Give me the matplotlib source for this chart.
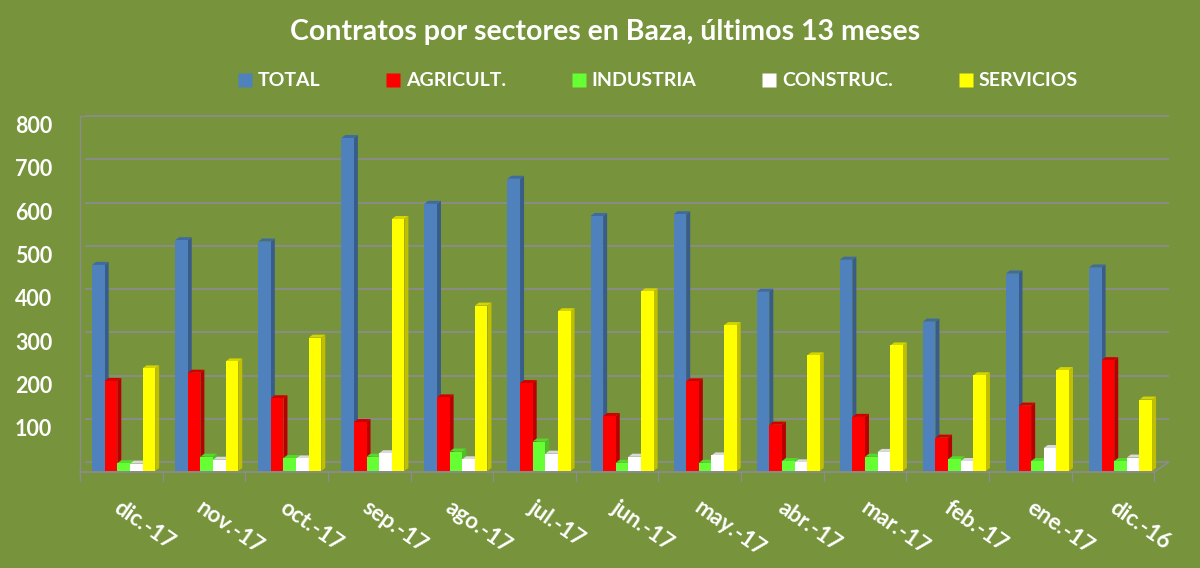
import matplotlib
matplotlib.use("Agg")
import matplotlib.pyplot as plt
from matplotlib.patches import Polygon
from matplotlib.lines import Line2D
import matplotlib.transforms as mtransforms

# ---- data ----
months = ["dic.-17", "nov.-17", "oct.-17", "sep.-17", "ago.-17", "jul.-17", "jun.-17",
          "may.-17", "abr.-17", "mar.-17", "feb.-17", "ene.-17", "dic.-16"]
series_names = ["TOTAL", "AGRICULT.", "INDUSTRIA", "CONSTRUC.", "SERVICIOS"]
total     = [476, 533, 530, 769, 617, 675, 589, 593, 414, 488, 345, 456, 470]
agricult  = [208, 227, 168, 113, 170, 203, 127, 207, 107, 125, 77, 151, 256]
industria = [18, 33, 30, 33, 45, 68, 19, 19, 23, 33, 27, 23, 23]
construc  = [17, 26, 29, 41, 27, 40, 33, 36, 20, 44, 23, 53, 31]
servicios = [237, 253, 308, 582, 382, 369, 415, 337, 267, 290, 221, 233, 165]
yticks = [100, 200, 300, 400, 500, 600, 700, 800]

values = [total, agricult, industria, construc, servicios]

# ---- style ----
BG = "#77933C"
front_cols = ["#4F81BD", "#FF0000", "#66FF33", "#FFFFFF", "#FFFF00"]
side_cols = ["#385D8A", "#B80000", "#4CC026", "#C8C8C8", "#BFBF00"]
top_cols = ["#3E6BA3", "#D00000", "#55D92B", "#DADADA", "#D4D400"]
GRID = "#8C8C8C"
FONT = ["Lato", "DejaVu Sans"]
plt.rcParams["font.family"] = FONT

fig = plt.figure(figsize=(12, 5.68), dpi=100, facecolor=BG)
ax = fig.add_axes([80 / 1200, 97 / 568, 1080 / 1200, 368 / 568])
ax.set_facecolor("none")
ax.set_xlim(0, 13)
ax.set_ylim(0, 850)
for s in ax.spines.values():
    s.set_visible(False)

bw = 0.152
off0 = 0.145
dx = 0.048   # depth in x (data units)
dy = 7.0     # depth in y (data units)
gdy = 20.0   # back wall offset for gridlines
gdx = 0.07

# back wall gridlines
for v in [0] + yticks:
    ax.plot([gdx, 13 + 0.1], [v + gdy, v + gdy], color=GRID, lw=1.3, zorder=0.5,
            clip_on=False)
# left wall line
ax.plot([0, 0], [0, 800 + gdy], color=GRID, lw=1.0, zorder=0.5, clip_on=False)
ax.plot([0, gdx], [800 + gdy, 800 + gdy], color=GRID, lw=1.0, zorder=0.5, clip_on=False)
# floor front edge
ax.plot([0, 12.93], [-2, -2], color=GRID, lw=1.3, zorder=0.6, clip_on=False)
ax.plot([12.93, 13.1], [-2, gdy], color=GRID, lw=1.3, zorder=0.6, clip_on=False)
for i in range(14):
    ax.plot([i * 12.93 / 13, i * 12.93 / 13], [-2, -22], color=GRID, lw=1.0,
            zorder=0.6, clip_on=False)

# bars with pseudo-3D faces
for g in range(len(months)):
    for k in range(len(series_names)):
        v = values[k][g]
        x0 = g + off0 + k * bw
        x1 = x0 + bw
        z = 2 + g * 0.01 + k * 0.001
        ax.bar(x0, v, width=bw, align="edge", color=front_cols[k], lw=0, zorder=z)
        side = Polygon([(x1, 0), (x1, v), (x1 + dx, v + dy), (x1 + dx, dy)],
                       closed=True, facecolor=side_cols[k], edgecolor="none",
                       zorder=z - 0.0005)
        ax.add_patch(side)
        top = Polygon([(x0, v), (x1, v), (x1 + dx, v + dy), (x0 + dx, v + dy)],
                      closed=True, facecolor=top_cols[k], edgecolor="none",
                      zorder=z - 0.0004)
        ax.add_patch(top)

# y tick labels
ax.set_yticks(yticks)
ax.set_yticklabels([str(t) for t in yticks], fontsize=15.5, fontweight="bold",
                   color="white")
ax.tick_params(axis="y", length=0, pad=20)
ax.set_xticks([])

# x labels rotated
xtr = ax.get_xaxis_transform()
for g, m in enumerate(months):
    t = xtr + mtransforms.ScaledTranslation(0, -26 / 100, fig.dpi_scale_trans)
    ax.text(g + 0.50, 0, m, transform=t, rotation=-35, rotation_mode="anchor",
            ha="left", va="top", fontsize=16, fontweight="bold", color="white")

# title
fig.text(605 / 1200, 1 - 32 / 568, "Contratos por sectores en Baza, últimos 13 meses",
         ha="center", va="center", fontsize=20.5, fontweight="bold", color="white")

# legend
handles = [Line2D([], [], marker="s", linestyle="none", markersize=9.5,
                  markerfacecolor=c, markeredgecolor="none") for c in front_cols]
leg = fig.legend(handles, series_names, loc="center", ncol=5,
                 bbox_to_anchor=(658 / 1200, 1 - 81 / 568), frameon=False,
                 fontsize=14, handlelength=0.7, handletextpad=0.3,
                 columnspacing=3.4, borderaxespad=0)
for txt in leg.get_texts():
    txt.set_color("white")
    txt.set_fontweight("bold")

fig.savefig("out.png", dpi=100, facecolor=BG)
